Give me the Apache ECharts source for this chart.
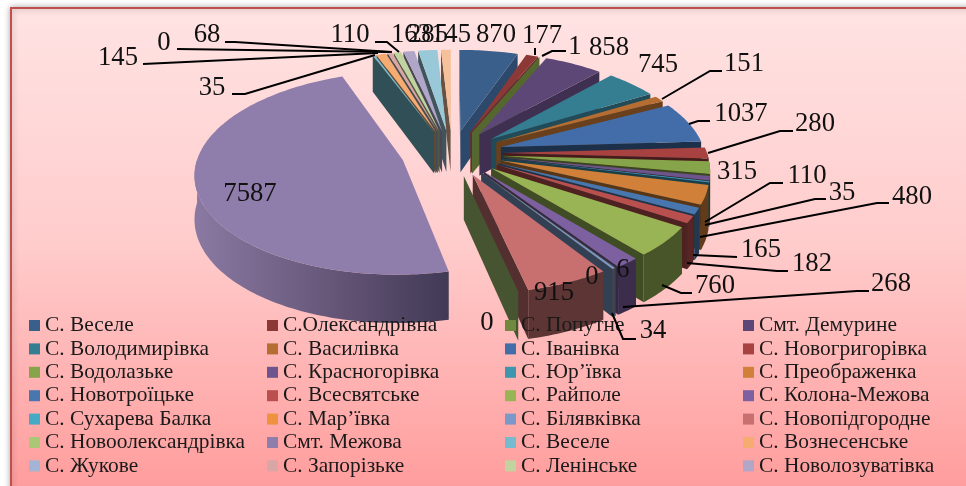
<!DOCTYPE html>
<html>
<head>
<meta charset="utf-8">
<style>html,body{margin:0;padding:0;background:#fff}#main{width:966px;height:486px}</style>
<script src="https://cdn.jsdelivr.net/npm/echarts@6/dist/echarts.min.js"></script>
</head>
<body>
<div id="main"></div>
<script>
// legend names, the last two slices have no entry in the legend of the picture
const categories = ['С. Веселе', 'С.Олександрівна', 'С. Попутне', 'Смт. Демурине',
  'С. Володимирівка', 'С. Василівка', 'С. Іванівка', 'С. Новогригорівка',
  'С. Водолазьке', 'С. Красногорівка', 'С. Юр’ївка', 'С. Преображенка',
  'С. Новотроїцьке', 'С. Всесвятське', 'С. Райполе', 'С. Колона-Межова',
  'С. Сухарева Балка', 'С. Мар’ївка', 'С. Білявківка', 'С. Новопідгородне',
  'С. Новоолександрівка', 'Смт. Межова', 'С. Веселе', 'С. Вознесенське',
  'С. Жукове', 'С. Запорізьке', 'С. Ленінське', 'С. Новолозуватівка'];
const values = [870, 177, 1, 858, 745, 151, 1037, 280, 315, 110, 35, 480, 165, 182, 760, 268,
  6, 0, 34, 915, 0, 7587, 35, 145, 0, 68, 110, 163, 285, 145];
const colors = ['#3a5f8b', '#8c3836', '#71893f', '#5c4776', '#357d91', '#b66d31', '#426da9', '#a74240',
  '#86a44a', '#6e548d', '#3d96ae', '#d08038', '#4876af', '#b9504d', '#98b455', '#7d60a0',
  '#46aac5', '#ee9240', '#7a98c8', '#c87070', '#aac775', '#8f7dab', '#74bbd0', '#f6ab70',
  '#a2b5d6', '#d8a6a5', '#c1d4a0', '#b0a6c8', '#99c8d8', '#f5c09a'];

// hand placed data labels: text centre and leader line, same order as values
const labelPlaces = [
  { x: 496, y: 35 },
  { x: 542, y: 36, line: [[535, 55], [535, 48]] },
  { x: 575, y: 47, line: [[542, 56], [552, 51], [566, 51]] },
  { x: 609, y: 48 },
  { x: 658, y: 65 },
  { x: 744, y: 64, line: [[662, 99], [710, 71], [722, 71]] },
  { x: 741, y: 114, line: [[689, 124], [698, 121], [710, 121]] },
  { x: 815, y: 124, line: [[708, 153], [780, 131], [793, 131]] },
  { x: 737, y: 172 },
  { x: 807, y: 176, line: [[705, 222], [770, 183], [783, 183]] },
  { x: 842, y: 193, line: [[705, 225], [815, 199], [826, 199]] },
  { x: 912, y: 197, line: [[700, 237], [877, 203], [889, 203]] },
  { x: 761, y: 250, line: [[693, 255], [737, 257]] },
  { x: 812, y: 264, line: [[687, 263], [777, 271], [788, 271]] },
  { x: 715, y: 286, line: [[662, 285], [681, 293], [692, 293]] },
  { x: 891, y: 284, line: [[623, 307], [857, 291], [869, 291]] },
  { x: 623, y: 270 },
  { x: 592, y: 277 },
  { x: 653, y: 331, line: [[612, 313], [623, 339], [636, 339]] },
  { x: 554, y: 293 },
  { x: 487, y: 323 },
  { x: 250, y: 194 },
  { x: 212, y: 88, line: [[232, 94], [245, 94], [375, 55]] },
  { x: 118, y: 58, line: [[143, 64], [378, 53]] },
  { x: 164, y: 43, line: [[177, 49], [390, 52]] },
  { x: 207, y: 35, line: [[225, 42], [235, 42], [392, 52]] },
  { x: 350, y: 35, line: [[375, 42], [387, 42], [399, 52]] },
  { x: 411, y: 35 },
  { x: 428, y: 35 },
  { x: 451, y: 35 }
];

// pie geometry
const cx = 452, cy = 153;
const rx = 204, ry = 100;
const explodeX = 51, explodeY = 23;
const depth = 42.5;
const persp = 0.13;
const serif = '"Liberation Serif", "Times New Roman", serif';

const total = values.reduce((a, b) => a + b, 0);
const cumulative = [];
values.reduce((sum, v, i) => { cumulative[i] = sum; return sum + v; }, 0);
const toAngle = v => echarts.number.linearMap(v, [0, total], [0, Math.PI * 2]);

function project(X, Y, z) {
  const s = 1 + persp * Y / ry;
  return [cx + X * s, cy + Y * s + z * s];
}

function shade(hex, k) {
  const c = echarts.color.parse(hex);
  return 'rgb(' + Math.round(c[0] * k) + ',' + Math.round(c[1] * k) + ',' + Math.round(c[2] * k) + ')';
}

function renderSlice(params, api) {
  const i = api.value(0);
  const a0 = toAngle(cumulative[i]);
  const a1 = toAngle(cumulative[i] + values[i]);
  const mid = (a0 + a1) / 2;
  const ox = Math.sin(mid) * explodeX, oy = -Math.cos(mid) * explodeY;
  const rim = (a, z) => project(ox + Math.sin(a) * rx, oy - Math.cos(a) * ry, z);
  const apex = z => project(ox, oy, z);
  const color = colors[i];
  const children = [];

  // cut faces, only the ones turned to the viewer
  const A = apex(0), M = rim(mid, 0);
  [a0, a1].forEach(function (a, n) {
    const P = rim(a, 0);
    const ex = P[0] - A[0], ey = P[1] - A[1];
    const sideOfDown = ex;
    const sideOfInner = ex * (M[1] - A[1]) - ey * (M[0] - A[0]);
    const visible = values[i] === 0 ? n === 0 : sideOfDown * sideOfInner < 0;
    if (!visible) return;
    const k = a < Math.PI ? 0.42 + 0.36 * Math.max(0, Math.cos(a)) : 0.42;
    children.push({
      type: 'polygon',
      shape: { points: [A, P, rim(a, depth), apex(depth)] },
      style: { fill: shade(color, k) }
    });
  });

  // outer wall on the front half
  const from = Math.max(a0, Math.PI / 2), to = Math.min(a1, Math.PI * 1.5);
  const topEdge = [], lowEdge = [];
  if (to > from) {
    const n = Math.ceil((to - from) / 0.02);
    for (let k = 0; k <= n; k++) {
      const a = from + (to - from) * k / n;
      topEdge.push(rim(a, 0));
      lowEdge.unshift(rim(a, depth));
    }
    const wallFill = values[i] > total / 4
      ? new echarts.graphic.LinearGradient(0, 0, 1, 0, [
          { offset: 0, color: '#8a7aa3' }, { offset: 0.55, color: '#655577' }, { offset: 1, color: '#413a55' }])
      : shade(color, 0.47);
    children.push({
      type: 'polygon',
      shape: { points: topEdge.concat(lowEdge) },
      style: { fill: wallFill }
    });
  }

  // top surface
  if (a1 > a0) {
    const pts = [A];
    const n = Math.max(1, Math.ceil((a1 - a0) / 0.02));
    for (let k = 0; k <= n; k++) pts.push(rim(a0 + (a1 - a0) * k / n, 0));
    children.push({ type: 'polygon', shape: { points: pts }, style: { fill: color } });
  }
  return { type: 'group', children: children };
}

function renderLabel(params, api) {
  const i = api.value(0);
  const place = labelPlaces[i];
  const children = [];
  if (place.line) {
    children.push({
      type: 'polyline',
      shape: { points: place.line },
      style: { stroke: '#000', lineWidth: 2, fill: null }
    });
  }
  children.push({
    type: 'text',
    style: {
      text: String(api.value(1)), x: place.x, y: place.y,
      fontFamily: serif, fontSize: 26.7, fill: '#111',
      align: 'center', verticalAlign: 'middle'
    }
  });
  return { type: 'group', children: children };
}

// back slices first so the front ones cover them
const drawOrder = values.map((v, i) => i).sort(function (p, q) {
  const mp = toAngle(cumulative[p] + values[p] / 2), mq = toAngle(cumulative[q] + values[q] / 2);
  return Math.cos(mq) - Math.cos(mp);
});

const series = drawOrder.map(i => ({
  type: 'custom',
  name: categories[i] || 'slice ' + i,
  coordinateSystem: 'none',
  silent: true,
  animation: false,
  itemStyle: { color: colors[i] },
  renderItem: renderSlice,
  data: [[i, values[i]]]
}));
series.push({
  type: 'custom',
  name: 'labels',
  coordinateSystem: 'none',
  silent: true,
  animation: false,
  z: 5,
  renderItem: renderLabel,
  data: values.map((v, i) => [i, v])
});

// four legend columns, 7 rows each
const legendLeft = [29, 267, 505, 743];
const legends = legendLeft.map((left, col) => ({
  orient: 'vertical',
  left: left,
  top: 315,
  height: 171,
  padding: 0,
  icon: 'rect',
  itemWidth: 11,
  itemHeight: 11,
  itemGap: 2.4,
  selectedMode: false,
  textStyle: { fontFamily: serif, fontSize: 21.4, color: '#1a1a1a', lineHeight: 18 },
  data: categories
    .map((name, i) => ({ name: name, i: i, itemStyle: { color: colors[i] } }))
    .filter(d => d.i % 4 === col)
    .map(d => ({ name: d.name, itemStyle: d.itemStyle }))
}));

const chart = echarts.init(document.getElementById('main'), null, { renderer: 'canvas' });
chart.setOption({
  animation: false,
  backgroundColor: '#fff',
  legend: legends,
  graphic: [{
    type: 'rect',
    z: -10,
    silent: true,
    shape: { x: 11, y: 8, width: 1000, height: 520 },
    style: {
      fill: new echarts.graphic.LinearGradient(0, 0, 0, 1, [
        { offset: 0, color: '#ffe3e3' },
        { offset: 0.45, color: '#ffcccc' },
        { offset: 0.93, color: '#ff9c9c' }
      ]),
      stroke: '#c0504d',
      lineWidth: 2,
      shadowBlur: 6,
      shadowColor: 'rgba(0,0,0,0.3)'
    }
  }],
  series: series
});

window.addEventListener('resize', function () {
  chart.resize();
});
</script>
</body>
</html>
